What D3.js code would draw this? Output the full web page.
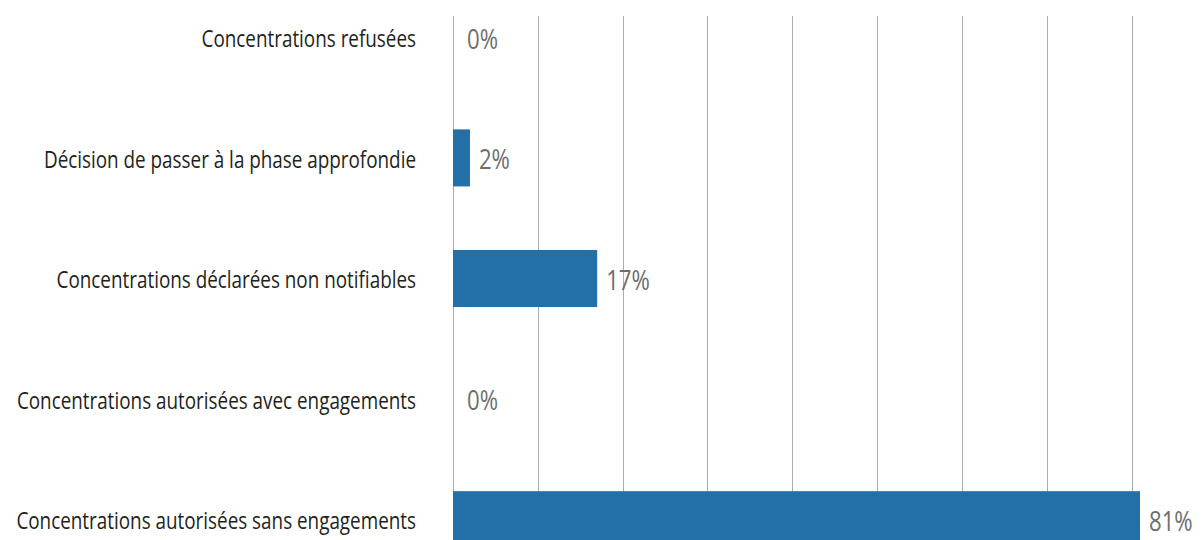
<!DOCTYPE html>
<html>
<head>
<meta charset="utf-8">
<script src="https://cdn.jsdelivr.net/npm/d3@7"></script>
<style>
  html, body { margin: 0; padding: 0; background: #fff; }
  svg { display: block; }
</style>
</head>
<body>
<svg id="chart" width="1202" height="540"></svg>
<script>
// Répartition des décisions de concentration (en %)
const categories = [
  "Concentrations refusées",
  "Décision de passer à la phase approfondie",
  "Concentrations déclarées non notifiables",
  "Concentrations autorisées avec engagements",
  "Concentrations autorisées sans engagements"
];
const values = [0, 2, 17, 0, 81];
const gridTicks = [0, 10, 20, 30, 40, 50, 60, 70, 80];

const svg = d3.select("#chart");
const W = 1202, H = 540;
const FONT = "'Open Sans', 'Noto Sans', sans-serif";
const LABEL_SIZE = 23;
const VALUE_SIZE = 27;

const x = d3.scaleLinear().domain([0, 80]).range([453, 1131.5]);
const y = d3.scaleBand()
  .domain(categories)
  .range([-23, 580])
  .paddingInner(0.527)
  .paddingOuter(0.2635);

// Condensed text: measure the widest label and squeeze horizontally
const probe = svg.append("text")
  .attr("font-family", FONT).attr("font-size", LABEL_SIZE)
  .text(categories[4]);
const natural = probe.node().getComputedTextLength();
probe.remove();
const sx = 400 / natural;

// Vertical gridlines
svg.append("g").selectAll("line")
  .data(gridTicks)
  .join("line")
  .attr("x1", d => Math.round(x(d)) + 0.5)
  .attr("x2", d => Math.round(x(d)) + 0.5)
  .attr("y1", 16)
  .attr("y2", H)
  .attr("stroke", "#ababab")
  .attr("stroke-width", 1);

// Bars
svg.append("g").selectAll("rect")
  .data(values)
  .join("rect")
  .attr("x", x(0))
  .attr("y", (d, i) => y(categories[i]))
  .attr("width", d => x(d) - x(0))
  .attr("height", y.bandwidth())
  .attr("fill", "#236fa8");

// Category labels
svg.append("g").selectAll("text")
  .data(categories)
  .join("text")
  .attr("transform", d => `translate(416,${y(d) + y.bandwidth() / 2 + 1}) scale(${sx},1)`)
  .attr("text-anchor", "end")
  .attr("dominant-baseline", "central")
  .attr("font-family", FONT)
  .attr("font-size", LABEL_SIZE)
  .attr("fill", "#231f20")
  .text(d => d);

// Value labels
svg.append("g").selectAll("text")
  .data(values)
  .join("text")
  .attr("transform", (d, i) => `translate(${x(d) + (d === 0 ? 14 : 9)},${y(categories[i]) + y.bandwidth() / 2 + 1}) scale(${sx},1)`)
  .attr("text-anchor", "start")
  .attr("dominant-baseline", "central")
  .attr("font-family", FONT)
  .attr("font-size", VALUE_SIZE)
  .attr("fill", "#6d6d6d")
  .text(d => d + "%");
</script>
</body>
</html>
